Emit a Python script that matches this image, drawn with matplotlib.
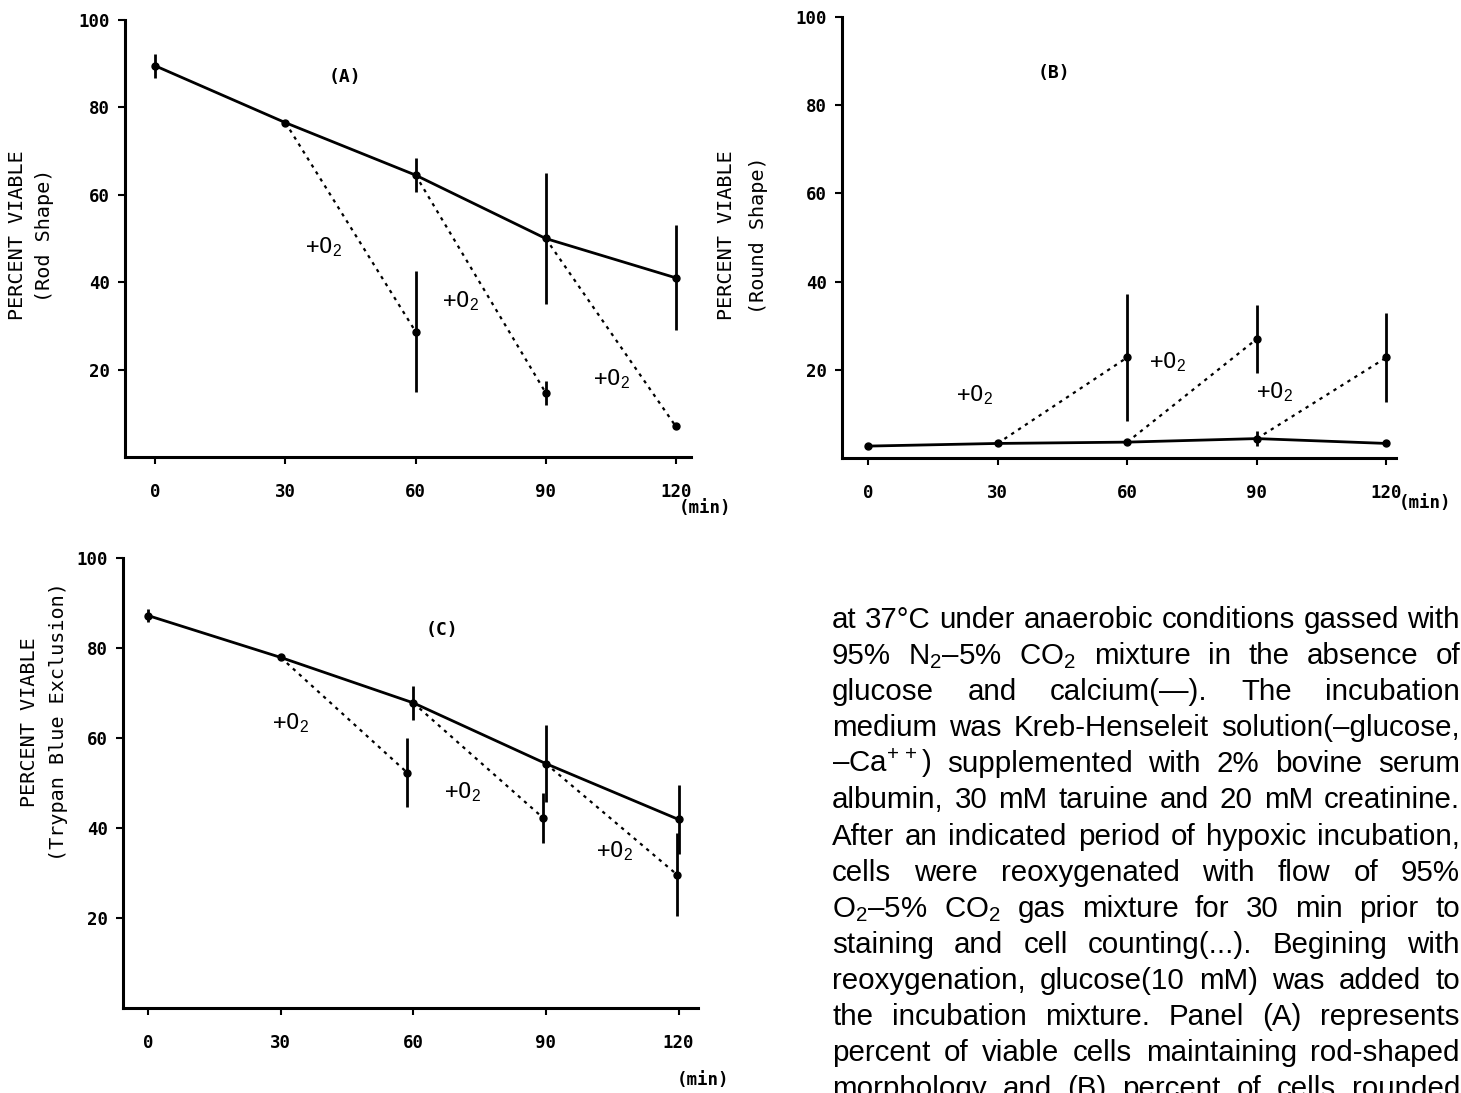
import matplotlib
matplotlib.use("Agg")
import matplotlib.pyplot as plt
from matplotlib import font_manager

# time points (min)
times = [0, 30, 60, 90, 120]
x_labels = ["0", "30", "60", "90", "120"]
y_ticks = [20, 40, 60, 80, 100]

# panel A - rod shape
a_mean = [89.5, 76.5, 64.5, 50.0, 41.0]
a_err = [2.7, 0, 3.9, 15.0, 12.0]
a_reox_t = [60, 90, 120]
a_reox_v = [28.7, 14.7, 7.0]
a_reox_err = [13.8, 2.7, 0]

# panel B - round shape
b_mean = [2.7, 3.3, 3.6, 4.4, 3.3]
b_err = [0, 0, 0, 1.7, 0]
b_reox_t = [60, 90, 120]
b_reox_v = [22.8, 27.0, 22.8]
b_reox_err = [14.4, 7.8, 10.1]

# panel C - trypan blue exclusion
c_mean = [87.2, 77.9, 67.8, 54.3, 41.9]
c_err = [1.5, 0, 3.7, 8.5, 7.6]
c_reox_t = [58.6, 89.4, 119.7]
c_reox_v = [52.3, 42.2, 29.6]
c_reox_err = [7.6, 5.6, 9.2]

caption = [
    "at 37°C under anaerobic conditions gassed with",
    "95% N$_2$–5% CO$_2$ mixture in the absence of",
    "glucose and calcium(—). The incubation",
    "medium was Kreb-Henseleit solution(–glucose,",
    "–Ca$^{+\\,+}$) supplemented with 2% bovine serum",
    "albumin, 30 mM taruine and 20 mM creatinine.",
    "After an indicated period of hypoxic incubation,",
    "cells were reoxygenated with flow of 95%",
    "O$_2$–5% CO$_2$ gas mixture for 30 min prior to",
    "staining and cell counting(...). Begining with",
    "reoxygenation, glucose(10 mM) was added to",
    "the incubation mixture. Panel (A) represents",
    "percent of viable cells maintaining rod-shaped",
    "morphology and (B) percent of cells rounded",
]

W, H = 1461, 1093
names = {f.name for f in font_manager.fontManager.ttflist}
body_font = "Liberation Sans Narrow" if "Liberation Sans Narrow" in names else "Liberation Sans"
mono = "DejaVu Sans Mono"

plt.rcParams["mathtext.fontset"] = "custom"
plt.rcParams["mathtext.rm"] = body_font
plt.rcParams["mathtext.it"] = body_font

fig = plt.figure(figsize=(W / 100, H / 100), dpi=100, facecolor="white")


def px_rect(l, r, t, b):
    return [l / W, 1 - b / H, (r - l) / W, (b - t) / H]


def fig_text(x, y, s, **kw):
    fig.text(x / W, 1 - y / H, s, **kw)


def panel(rect, xlim, mean, err, rt, rv, rerr, tag, tag_pos, o2_pos):
    ax = fig.add_axes(rect)
    ax.set_xlim(*xlim)
    ax.set_ylim(0, 100)
    for side in ["top", "right"]:
        ax.spines[side].set_visible(False)
    for side in ["left", "bottom"]:
        ax.spines[side].set_linewidth(2.2)
    ax.set_xticks(times)
    ax.set_xticklabels(x_labels, family=mono, weight="bold", fontsize=12.5)
    ax.set_yticks(y_ticks)
    ax.set_yticklabels([str(v) for v in y_ticks], family=mono, weight="bold", fontsize=12.5)
    ax.tick_params(axis="x", direction="out", length=5, width=1.5, pad=14)
    ax.tick_params(axis="y", direction="out", length=5, width=1.5, pad=6)

    # anaerobic incubation
    ax.plot(times, mean, "-", color="k", lw=2)
    ax.errorbar(times, mean, yerr=err, fmt="o", ms=5, color="k", elinewidth=2, capsize=0)
    # reoxygenation
    for i in range(3):
        ax.plot([times[i + 1], rt[i]], [mean[i + 1], rv[i]], linestyle=(0, (1.5, 2.2)), color="k", lw=1.6)
    ax.errorbar(rt, rv, yerr=rerr, fmt="o", ms=5, color="k", elinewidth=2, capsize=0)

    ax.text(tag_pos[0], tag_pos[1], tag, family=mono, weight="bold", fontsize=13, ha="center", va="center")
    for x, y in o2_pos:
        ax.text(x, y, "+O$_{2}$", family=mono, fontsize=16, ha="left", va="center")
    return ax


panel(px_rect(125, 691, 20, 457), (-7, 123.5), a_mean, a_err, a_reox_t, a_reox_v, a_reox_err,
      "(A)", (43.6, 87), [(34.4, 48), (66, 35.7), (100.8, 17.8)])
panel(px_rect(842, 1396, 17, 458), (-6, 122.2), b_mean, b_err, b_reox_t, b_reox_v, b_reox_err,
      "(B)", (43, 87.4), [(20.4, 14.2), (65, 21.8), (89.8, 15)])
panel(px_rect(123, 698, 558, 1008), (-5.7, 124.4), c_mean, c_err, c_reox_t, c_reox_v, c_reox_err,
      "(C)", (66.5, 84), [(28, 63.2), (66.9, 48), (101.4, 34.9)])

# axis titles
ylab = dict(family=mono, fontsize=14.5, rotation=90, ha="center", va="center")
fig_text(18, 235, "PERCENT VIABLE", **ylab)
fig_text(45, 235, "(Rod Shape)", **ylab)
fig_text(727, 235, "PERCENT VIABLE", **ylab)
fig_text(758, 235, "(Round Shape)", **ylab)
fig_text(30, 722, "PERCENT VIABLE", **ylab)
fig_text(58, 722, "(Trypan Blue Exclusion)", **ylab)

mins = dict(family=mono, weight="bold", fontsize=12.5, ha="center", va="center")
fig_text(705, 508, "(min)", **mins)
fig_text(1425, 503, "(min)", **mins)
fig_text(703, 1080, "(min)", **mins)

# justified caption text, largest size whose widest line still fits
renderer = fig.canvas.get_renderer()
x0, x1 = 832, 1460
fs = 26
while True:
    widest = 0
    for line in caption:
        t = fig.text(0, 0, line, family=body_font, fontsize=fs)
        widest = max(widest, t.get_window_extent(renderer).width)
        t.remove()
    if widest <= (x1 - x0) or fs < 12:
        break
    fs -= 0.25

for i, line in enumerate(caption):
    y = 628 + 36.1 * i
    words = line.split(" ")
    items = [fig.text(0, 1 - y / H, w, family=body_font, fontsize=fs, va="baseline") for w in words]
    widths = [it.get_window_extent(renderer).width for it in items]
    gap = ((x1 - x0) - sum(widths)) / max(len(words) - 1, 1)
    x = x0
    for it, w in zip(items, widths):
        it.set_x(x / W)
        x += w + gap

fig.savefig("out.png", dpi=100, facecolor="white")
